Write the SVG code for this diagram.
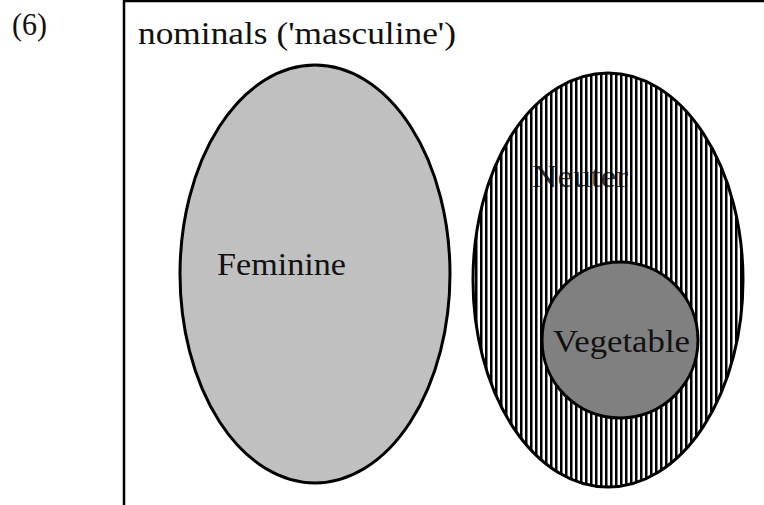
<svg xmlns="http://www.w3.org/2000/svg" width="764" height="505" viewBox="0 0 764 505">
<style>
text{font-family:"Liberation Serif","DejaVu Serif",serif;font-size:31px;fill:#111}
.sh{stroke:#000;stroke-width:3}
</style>
<defs>
<pattern id="vh" patternUnits="userSpaceOnUse" width="5" height="10">
<rect x="0" y="0" width="2.5" height="10" fill="#000"/>
</pattern>
</defs>
<rect width="764" height="505" fill="#fff"/>
<text x="12" y="35" textLength="35" lengthAdjust="spacingAndGlyphs">(6)</text>
<path d="M124,505 V1 H764" fill="none" stroke="#000" stroke-width="2.5"/>
<text x="138" y="44" textLength="318" lengthAdjust="spacingAndGlyphs">nominals ('masculine')</text>
<g id="feminine">
<ellipse cx="315" cy="274" rx="135" ry="209" fill="#c0c0c0" class="sh"/>
<text x="217" y="275" textLength="129" lengthAdjust="spacingAndGlyphs">Feminine</text>
</g>
<g id="neuter">
<ellipse cx="608" cy="280" rx="135" ry="207" fill="#fff"/>
<text x="532" y="187" textLength="96" lengthAdjust="spacingAndGlyphs" style="fill:#333">Neuter</text>
<ellipse cx="608" cy="280" rx="135" ry="207" fill="url(#vh)" class="sh"/>
</g>
<g id="vegetable">
<circle cx="620" cy="340" r="78" fill="#808080" class="sh"/>
<text x="553" y="352" textLength="137" lengthAdjust="spacingAndGlyphs">Vegetable</text>
</g>
<g id="connectors"/>
</svg>
